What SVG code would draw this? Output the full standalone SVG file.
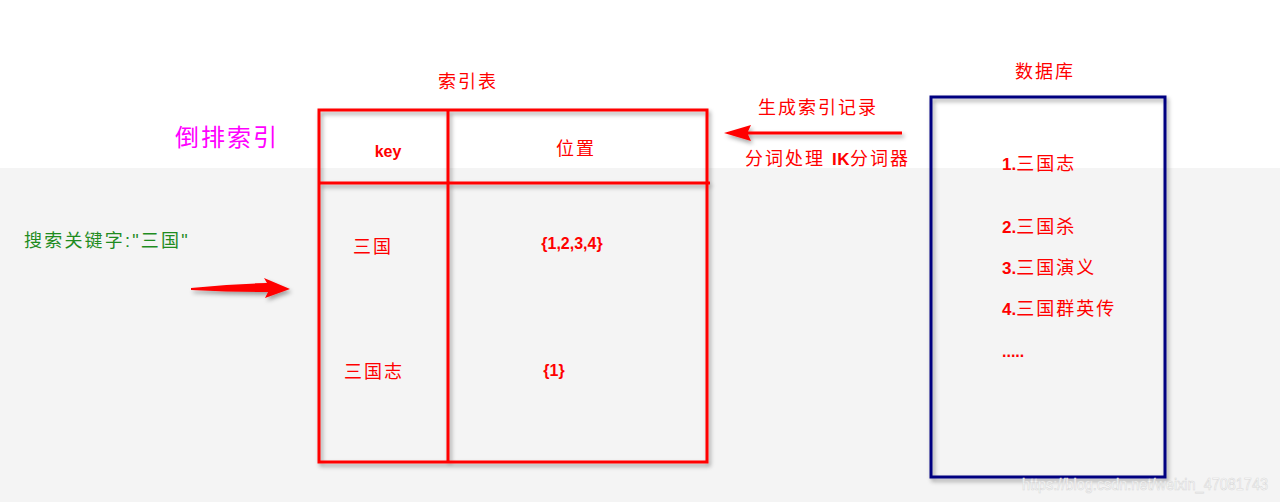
<svg xmlns="http://www.w3.org/2000/svg" width="1280" height="502" viewBox="0 0 1280 502">
<defs>
<filter id="sh" x="-10%" y="-10%" width="120%" height="120%">
<feDropShadow dx="2" dy="3" stdDeviation="2" flood-color="#000" flood-opacity="0.35"/>
</filter>
<filter id="sh2" filterUnits="userSpaceOnUse" x="0" y="0" width="1280" height="502">
<feDropShadow dx="2" dy="3" stdDeviation="2" flood-color="#000" flood-opacity="0.35"/>
</filter>
<style>
text{font-family:"Liberation Sans","Noto Sans CJK SC",sans-serif;fill:#ff0000}
.cn{font-size:18px;letter-spacing:2px}
.b{font-weight:bold}
.box{fill:none;stroke:#ff0000;stroke-width:3}
</style>
</defs>
<rect x="0" y="0" width="1280" height="502" fill="#ffffff"/>
<rect x="0" y="168" width="1280" height="334" fill="#f4f4f4"/>

<text x="175" y="146" style="font-size:24px;letter-spacing:2px;fill:#ff00ff">倒排索引</text>
<text x="24" y="247" style="font-size:18px;letter-spacing:2.2px;fill:#1f8c1f">搜索关键字:"三国"</text>

<g id="index-table">
<text x="468" y="88" class="cn" text-anchor="middle">索引表</text>
<g filter="url(#sh)">
<rect class="box" x="319" y="110" width="388" height="352"/>
<line class="box" x1="319" y1="183" x2="710" y2="183"/>
<line class="box" x1="448" y1="110" x2="448" y2="462"/>
</g>
<text x="388" y="157" class="b" text-anchor="middle" style="font-size:16px">key</text>
<text x="576" y="155" class="cn" text-anchor="middle">位置</text>
<text x="373" y="253" class="cn" text-anchor="middle">三国</text>
<text x="572" y="249" class="b" text-anchor="middle" style="font-size:16px">{1,2,3,4}</text>
<text x="374" y="378" class="cn" text-anchor="middle">三国志</text>
<text x="554" y="376" class="b" text-anchor="middle" style="font-size:16px">{1}</text>
</g>

<g id="database">
<text x="1045" y="78" class="cn" text-anchor="middle">数据库</text>
<rect x="931" y="97" width="234" height="380" fill="none" stroke="#000080" stroke-width="3" filter="url(#sh)"/>
<text x="1002" y="170" class="cn"><tspan class="b" style="font-size:17px;letter-spacing:0">1.</tspan>三国志</text>
<text x="1002" y="233" class="cn"><tspan class="b" style="font-size:17px;letter-spacing:0">2.</tspan>三国杀</text>
<text x="1002" y="274" class="cn"><tspan class="b" style="font-size:17px;letter-spacing:0">3.</tspan>三国演义</text>
<text x="1002" y="315" class="cn"><tspan class="b" style="font-size:17px;letter-spacing:0">4.</tspan>三国群英传</text>
<text x="1002" y="357" class="b" style="font-size:16px">.....</text>
</g>

<g id="connectors">
<path d="M902,131.5 L748,131.5 L751,125 L724,133 L751,141 L748,134.5 L902,134.5 Z" fill="#ff0000" filter="url(#sh2)"/>
<text x="818" y="114" class="cn" text-anchor="middle">生成索引记录</text>
<text x="745" y="165" class="cn">分词处理 <tspan class="b" style="font-size:17px;letter-spacing:0.5px"> IK</tspan>分词器</text>
<path d="M191,288 Q230,284 267,283 L264,278 L290,289 L265,298 L268,292 Q230,292 191,290 Z" fill="#ff0000" filter="url(#sh2)"/>
</g>

<text x="1022" y="490" textLength="246" lengthAdjust="spacingAndGlyphs" style="font-size:16px;fill:#ffffff;stroke:#d8d8d8;stroke-width:0.6">https://blog.csdn.net/weixin_47081743</text>
</svg>
